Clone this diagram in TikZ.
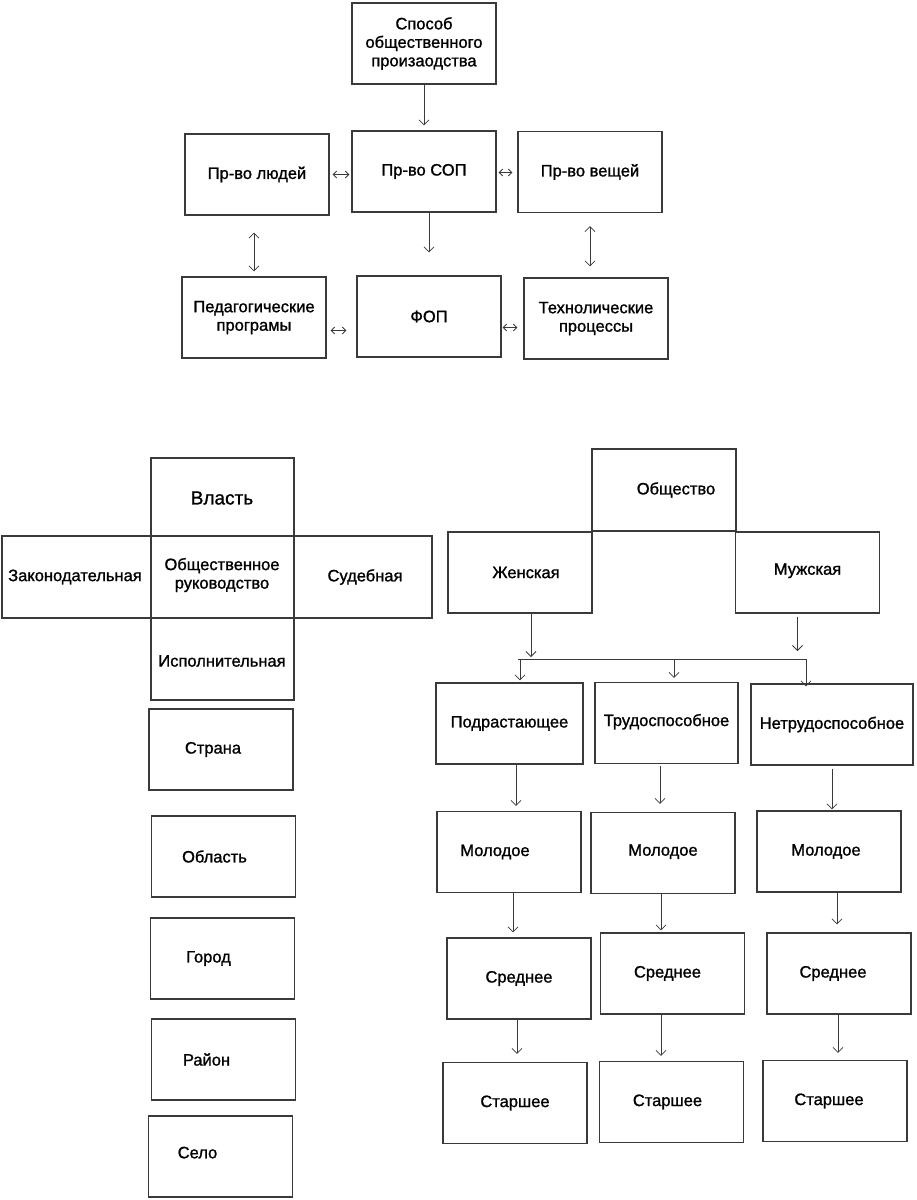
\documentclass[tikz,border=0pt]{standalone}
\usepackage{fontspec}
\setmainfont{Liberation Sans}[UprightFeatures={FakeBold=1.2}]
\usetikzlibrary{arrows.meta}
\definecolor{frame}{RGB}{58,58,58}

\begin{document}
\begin{tikzpicture}[x=1pt,y=-1pt,
  every node/.style={inner sep=0pt,font=\fontsize{16.5}{18.5}\selectfont,align=center},
  box/.style={draw=frame,line width=1.1pt,minimum width=144pt,minimum height=81pt},
  arr/.style={draw=frame,line width=0.8pt,-{Straight Barb[length=5pt,width=10pt]}},
  dbl/.style={draw=frame,line width=0.8pt,{Straight Barb[length=5pt,width=10pt]}-{Straight Barb[length=5pt,width=10pt]}},
  tiny/.style={draw=frame,line width=0.9pt,{Straight Barb[length=3.5pt,width=7pt]}-{Straight Barb[length=3.5pt,width=7pt]}}]
\useasboundingbox (0,0) rectangle (917,1200);
% production scheme
\node[box] (spos) at (424,43.5) {Способ\\общественного\\ произаодства};
\node[box] (people) at (257,174.5) {Пр-во людей};
\node[box] (sop) at (424,171.5) {\raisebox{-4pt}{Пр-во СОП}};
\node[box] (thing) at (590,172) {Пр-во вещей};
\node[box] (ped) at (254,317.5) {Педагогические\\програмы};
\node[box] (fop) at (429,316.5) {ФОП};
\node[box] (tech) at (596,318.5) {Технолические\\процессы};
\draw[arr,shorten >=5pt] (spos.south) -- (sop.north);
\draw[arr,shorten >=23pt] (fop |- sop.south) -- (fop.north);
\draw[dbl,shorten <=17pt,shorten >=5pt] (ped |- people.south) -- (ped.north);
\draw[dbl,shorten <=13pt,shorten >=11pt] (thing.south) -- (thing.south |- tech.north);
\draw[tiny,shorten <=3pt,shorten >=2pt] (people.east) -- (people.east -| sop.west);
\draw[tiny,shorten <=2pt,shorten >=5pt] ([yshift=-1pt]sop.east) -- ([yshift=-1pt]sop.east -| thing.west);
\draw[tiny,shorten <=4pt,shorten >=10pt] ([yshift=-13pt]ped.east) -- ([yshift=-13pt]ped.east -| fop.west);
\draw[tiny,shorten <=1pt,shorten >=6pt] ([yshift=-11pt]fop.east) -- ([yshift=-11pt]fop.east -| tech.west);
% power cross
\draw[frame,line width=1.1pt] (151,458) rectangle (294,700);
\draw[frame,line width=1.1pt] (2,536) rectangle (432,618);
\node[font=\fontsize{19}{21}\selectfont] (vlast) at (222,498) {Власть};
\node (zakon) at (75,577) {Законодательная};
\node (rukov) at (222,575) {Общественное\\руководство};
\node (sud) at (365,577) {Судебная};
\node (ispoln) at (222,661) {Исполнительная};
% territory
\node[box] (strana) at (221,749.5) {\hspace*{-16pt}Страна};
\node[box] (oblast) at (223.5,856.5) {\hspace*{-18pt}Область};
\node[box] (gorod) at (222.5,958.5) {\hspace*{-28pt}Город};
\node[box] (raion) at (223.5,1059.5) {\hspace*{-34pt}Район};
\node[box] (selo) at (220.5,1156.5) {\hspace*{-46pt}\raisebox{8pt}{Село}};
% society
\node[box,minimum height=82pt] (obsch) at (664,490) {\hspace*{24pt}Общество};
\node[box] (fem) at (520,572.5) {\hspace*{12pt}Женская};
\node[box] (male) at (807.5,572.5) {\raisebox{7pt}{Мужская}};
\coordinate (b1) at (520,659);
\coordinate (b2) at (674,659);
\coordinate (b3) at (806,659);
\node[box,minimum width=147pt] (grow) at (509.5,723.5) {Подрастающее};
\node[box,minimum width=143pt] (work) at (666.5,723) {\raisebox{6pt}{Трудоспособное}};
\node[box,minimum width=162pt] (nowork) at (832,724.5) {Нетрудоспособное};
\draw[arr,shorten >=2pt] ([xshift=11pt]fem.south) -- ([xshift=11pt]fem.south |- b1);
\draw[arr,shorten <=3pt,shorten >=8pt] ([xshift=-10pt]male.south) -- ([xshift=-10pt]male.south |- b3);
\draw[frame,line width=0.8pt] ([xshift=-2pt]b1) -- (b3);
\draw[arr,shorten >=2pt] (b1) -- (b1 |- grow.north);
\draw[arr,shorten >=4pt] (b2) -- (b2 |- work.north);
\draw[arr,shorten >=-3pt] (b3) -- (b3 |- nowork.north);
\node[box] (young1) at (509,852) {\hspace*{-28pt}Молодое};
\node[box] (young2) at (663,853) {\raisebox{6pt}{Молодое}};
\node[box] (young3) at (829,851.5) {\hspace*{-6pt}Молодое};
\node[box] (mid1) at (519,978.5) {Среднее};
\node[box] (mid2) at (672.5,973.5) {\hspace*{-10pt}\raisebox{2pt}{Среднее}};
\node[box] (mid3) at (839,973.5) {\hspace*{-12pt}Среднее};
\node[box] (old1) at (515,1103) {Старшее};
\node[box] (old2) at (671.5,1102) {\hspace*{-8pt}\raisebox{2pt}{Старшее}};
\node[box] (old3) at (835,1101) {\hspace*{-12pt}\raisebox{2pt}{Старшее}};
\draw[arr,shorten >=5pt] ([xshift=6.5pt]grow.south) -- ([xshift=6.5pt]grow.south |- young1.north);
\draw[arr,shorten <=2pt,shorten >=8pt] ([xshift=-6.5pt]work.south) -- ([xshift=-6.5pt]work.south |- young2.north);
\draw[arr,shorten <=3pt,shorten >=1pt] (nowork.south) -- (nowork.south |- young3.north);
\draw[arr,shorten >=5pt] ([xshift=4pt]young1.south) -- ([xshift=4pt]young1.south |- mid1.north);
\draw[arr,shorten >=2pt] ([xshift=-2pt]young2.south) -- ([xshift=-2pt]young2.south |- mid2.north);
\draw[arr,shorten >=8pt] ([xshift=8pt]young3.south) -- ([xshift=8pt]young3.south |- mid3.north);
\draw[arr,shorten >=8pt] ([xshift=-2pt]mid1.south) -- ([xshift=-2pt]mid1.south |- old1.north);
\draw[arr,shorten >=5pt] ([xshift=-11.5pt]mid2.south) -- ([xshift=-11.5pt]mid2.south |- old2.north);
\draw[arr,shorten >=7pt] ([xshift=-1pt]mid3.south) -- ([xshift=-1pt]mid3.south |- old3.north);
\end{tikzpicture}
\end{document}
